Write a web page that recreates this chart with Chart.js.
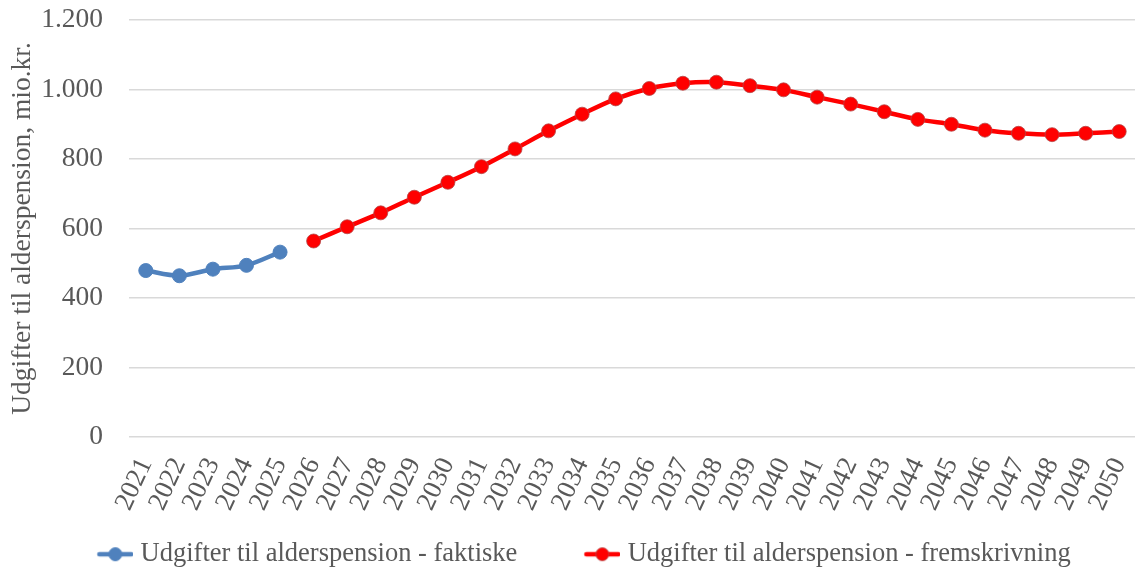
<!DOCTYPE html>
<html>
<head>
<meta charset="utf-8">
<script src="https://cdn.jsdelivr.net/npm/chart.js@4"></script>
<style>
  html, body { margin: 0; padding: 0; background: #fff; overflow: hidden; }
  #wrap { width: 1135px; height: 568px; overflow: hidden; }
</style>
</head>
<body>
<div id="wrap"><canvas id="pensionChart" width="1144" height="568"></canvas></div>
<script>
// Data
const years = ['2021','2022','2023','2024','2025','2026','2027','2028','2029','2030',
               '2031','2032','2033','2034','2035','2036','2037','2038','2039','2040',
               '2041','2042','2043','2044','2045','2046','2047','2048','2049','2050'];
const actual = [479, 464, 483, 494, 532];
const projection = [564, 605, 645, 690, 733, 778, 829, 881, 929, 973, 1003, 1018, 1021,
                    1011, 999, 978, 958, 936, 914, 900, 883, 874, 870, 874, 879];
const yTicks = [0, 200, 400, 600, 800, 1000, 1200];

const BLUE = '#4F81BD';
const RED = '#FF0000';
const RED_EDGE = 'rgba(180,70,70,0.8)';
const TEXT = '#595959';
const FONT = '"Liberation Serif", "Times New Roman", serif';

// pad series out to the full year range
const actualSeries = years.map((y, i) => i < actual.length ? actual[i] : null);
const projSeries = years.map((y, i) => i >= years.length - projection.length
  ? projection[i - (years.length - projection.length)] : null);

// legend marker: line with a dot, drawn at the right end of the image
function legendIcon(color, border) {
  const c = document.createElement('canvas');
  c.width = 85; c.height = 16;
  const g = c.getContext('2d');
  g.strokeStyle = color;
  g.lineWidth = 4.5;
  g.lineCap = 'round';
  g.beginPath();
  g.moveTo(51, 8); g.lineTo(83, 8);
  g.stroke();
  g.fillStyle = color;
  g.strokeStyle = border;
  g.lineWidth = 1;
  g.beginPath();
  g.arc(67, 8, 6.5, 0, Math.PI * 2);
  g.fill(); g.stroke();
  return c;
}

function danish(v) {
  return String(v).replace(/\B(?=(\d{3})+(?!\d))/g, '.');
}

// move the legend a little to the left, like the original
const legendNudge = {
  id: 'legendNudge',
  afterLayout(chart) {
    if (!chart.legend) return;
    chart.legend.left -= 12.5;
    chart.legend.right -= 12.5;
  }
};

function initChart() {
  const ctx = document.getElementById('pensionChart');
  if (!ctx) return;

  const icons = [legendIcon(BLUE, BLUE), legendIcon(RED, RED_EDGE)];

  new Chart(ctx, {
    type: 'line',
    data: {
      labels: years,
      datasets: [{
        label: 'Udgifter til alderspension - faktiske',
        data: actualSeries,
        borderColor: BLUE,
        backgroundColor: BLUE,
        borderWidth: 4.5,
        pointRadius: 7,
        pointBorderWidth: 1,
        pointBorderColor: BLUE,
        pointBackgroundColor: BLUE,
        tension: 0.3,
        spanGaps: false
      }, {
        label: 'Udgifter til alderspension - fremskrivning',
        data: projSeries,
        borderColor: RED,
        backgroundColor: RED,
        borderWidth: 4.5,
        pointRadius: 7,
        pointBorderWidth: 1,
        pointBorderColor: RED_EDGE,
        pointBackgroundColor: RED,
        tension: 0.3,
        spanGaps: false
      }]
    },
    options: {
      responsive: false,
      animation: false,
      layout: { padding: { left: 6, right: 0, top: 0, bottom: 0 } },
      scales: {
        x: {
          offset: true,
          grid: { display: false },
          border: { display: false },
          ticks: {
            color: TEXT,
            font: { family: FONT, size: 27 },
            minRotation: 65,
            maxRotation: 65,
            autoSkip: false,
            padding: 8
          },
          afterFit: s => { s.paddingLeft = 0; s.paddingRight = 0; s.height = 80; }
        },
        y: {
          min: 0,
          max: 1200,
          afterBuildTicks: axis => { axis.ticks = yTicks.map(v => ({ value: v })); },
          grid: { color: '#D9D9D9', lineWidth: 1.5, drawTicks: false },
          border: { display: false },
          ticks: {
            color: TEXT,
            font: { family: FONT, size: 27.5 },
            padding: 26,
            callback: v => danish(v)
          },
          title: {
            display: true,
            text: 'Udgifter til alderspension, mio.kr.',
            color: TEXT,
            font: { family: FONT, size: 27.5 },
            padding: { top: 0, bottom: 0 }
          },
          afterFit: s => { s.width = 123; s.paddingTop = 20; s.paddingBottom = 0; }
        }
      },
      plugins: {
        legend: {
          position: 'bottom',
          maxHeight: 51,
          labels: {
            color: TEXT,
            font: { family: FONT, size: 26.5 },
            usePointStyle: true,
            pointStyleWidth: 73,
            padding: 24,
            generateLabels: chart => chart.data.datasets.map((ds, i) => ({
              text: ds.label,
              datasetIndex: i,
              pointStyle: icons[i],
              fontColor: TEXT,
              hidden: false
            }))
          }
        },
        tooltip: { enabled: false }
      }
    },
    plugins: [legendNudge]
  });
}

document.addEventListener('DOMContentLoaded', function() {
  initChart();
});
</script>
</body>
</html>
